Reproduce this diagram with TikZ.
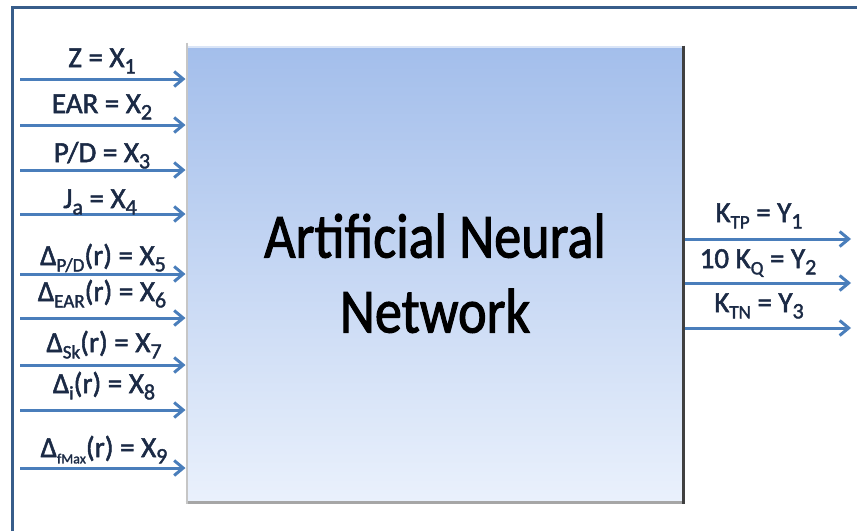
\documentclass[tikz,border=0pt]{standalone}
\usepackage{fontspec}
\setmainfont{Carlito}[FakeBold=1.8]
\usetikzlibrary{arrows.meta,positioning}

\definecolor{frameCol}{HTML}{385D8A}
\definecolor{arrCol}{HTML}{4A7EBB}
\definecolor{lblCol}{HTML}{1B2A45}
\definecolor{annTop}{HTML}{A3BEEB}
\definecolor{annBot}{HTML}{EAF1FC}

% lowered, smaller text (subscripts in the labels)
\newcommand\lowtx[2][22]{\raisebox{-0.22em}{\fontsize{#1}{#1}\selectfont #2}}

\begin{document}
\begin{tikzpicture}[x=1pt,y=-1pt,
        ann/.style={rectangle,draw=gray!55,line width=1pt,top color=annTop,bottom color=annBot,
                minimum width=498pt,minimum height=457pt,inner sep=0pt},
        title/.style={align=center,font=\fontsize{63}{75}\selectfont,inner sep=0pt},
        lbl/.style={text=lblCol,anchor=base,inner sep=0pt,font=\fontsize{29}{29}\selectfont},
        link/.style={draw=arrCol,line width=3pt,-{Straight Barb[length=9pt,width=15pt]}},
    ]
    \useasboundingbox (0,0) rectangle (857,531);

    % Frame
    \draw[frameCol,line width=3pt] (12,531) -- (12,7) -- (857,7);

    % Network box
    \node[ann] (ann) at (435,274.5) {};
    \draw[black!75,line width=3pt] ([xshift=-1.5pt]ann.north east) -- ([xshift=-1.5pt]ann.south east);
    \draw[gray!70,line width=2.5pt] ([yshift=1.25pt]ann.south west) -- ([xshift=-3pt,yshift=1.25pt]ann.south east);
    \draw[gray!45,line width=2pt] ([xshift=1pt,yshift=3pt]ann.north west) -- ([xshift=1pt]ann.south west);
    \draw[white!60!annTop,line width=2pt] ([xshift=2pt,yshift=-1pt]ann.north west) -- ([xshift=-3pt,yshift=-1pt]ann.north east);
    \node[title] (ttl) at (435,280) {\scalebox{0.86}[1]{\begin{tabular}{@{}c@{}}Artificial Neural\\Network\end{tabular}}};

    % Inputs
    \coordinate (in1) at (20,79);
    \coordinate (in2) at (20,125);
    \coordinate (in3) at (20,170);
    \coordinate (in4) at (20,214);
    \coordinate (in5) at (20,274);
    \coordinate (in6) at (20,318);
    \coordinate (in7) at (20,365);
    \coordinate (in8) at (20,410);
    \coordinate (in9) at (20,468);
    \foreach \i in {1,...,9} {
            \draw[link] (in\i) -- (in\i -| ann.west);
        }
    \node[lbl] (x1) at (102,67) {Z = X\lowtx{1}};
    \node[lbl] (x2) at (102,113) {EAR = X\lowtx{2}};
    \node[lbl] (x3) at (102,162) {P/D = X\lowtx{3}};
    \node[lbl] (x4) at (100,208) {J\lowtx{a} = X\lowtx{4}};
    \node[lbl] (x5) at (103,265) {Δ\lowtx[19]{P/D}(r) = X\lowtx{5}};
    \node[lbl] (x6) at (102,301) {Δ\lowtx[19]{EAR}(r) = X\lowtx{6}};
    \node[lbl] (x7) at (104,352) {Δ\lowtx[19]{Sk}(r) = X\lowtx{7}};
    \node[lbl] (x8) at (104,393) {Δ\lowtx[19]{i}(r) = X\lowtx{8}};
    \node[lbl] (x9) at (104,457) {Δ\lowtx[14]{fMax}(r) = X\lowtx{9}};

    % Outputs
    \coordinate (out1) at (851,239);
    \coordinate (out2) at (851,283);
    \coordinate (out3) at (851,328);
    \foreach \i in {1,2,3} {
            \draw[link] (out\i -| ann.east) -- (out\i);
        }
    \node[lbl] (y1) at (759,222) {K\lowtx[19]{TP} = Y\lowtx{1}};
    \node[lbl] (y2) at (758,268) {10 K\lowtx[19]{Q} = Y\lowtx{2}};
    \node[lbl] (y3) at (759,312) {K\lowtx[19]{TN} = Y\lowtx{3}};

\end{tikzpicture}
\end{document}
